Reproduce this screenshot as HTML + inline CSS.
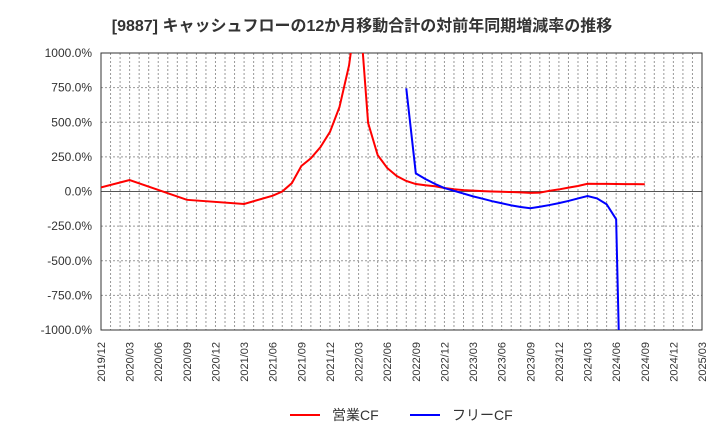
<!DOCTYPE html>
<html><head><meta charset="utf-8"><style>
html,body{margin:0;padding:0;background:#fff;width:720px;height:440px;overflow:hidden}
svg{display:block}
text{font-family:"Liberation Sans","Noto Sans CJK JP",sans-serif}
</style></head><body>
<svg id="c" width="720" height="440" xmlns="http://www.w3.org/2000/svg">
<text x="362" y="31" text-anchor="middle" font-size="16" font-weight="bold" fill="#333">[9887]  キャッシュフローの12か月移動合計の対前年同期増減率の推移</text>
<defs><clipPath id="pc"><rect x="101" y="53" width="601" height="277"/></clipPath></defs>
<g id="grid"></g><g id="axes"></g>
<g id="series" clip-path="url(#pc)"></g>
<g>
<line x1="290" y1="415" x2="320" y2="415" stroke="#f00" stroke-width="2"/>
<text x="332" y="420" font-size="14" fill="#333">営業CF</text>
<line x1="410" y1="415" x2="440" y2="415" stroke="#00f" stroke-width="2"/>
<text x="452" y="420" font-size="14" fill="#333">フリーCF</text>
</g>
</svg>
<script>
const yTicks=[1000,750,500,250,0,-250,-500,-750,-1000];
const xLabels=["2019/12","2020/03","2020/06","2020/09","2020/12","2021/03","2021/06","2021/09","2021/12","2022/03","2022/06","2022/09","2022/12","2023/03","2023/06","2023/09","2023/12","2024/03","2024/06","2024/09","2024/12","2025/03"];
const opMonths=[0,3,9,15,18,19,20,21,22,23,24,25,26,27,28,29,30,31,32,33,34,35,36,37,38,39,40,41,42,43,44,45,46,47,48,49,50,51,52,53,54,55,56,57];
const opValues=[30,83,-60,-90,-30,0,60,184,240,320,430,610,910,1410,495,263,170,112,76,54,45,38,25,16,10,6,3,0,-2,-4,-6,-10,-8,5,15,28,40,56,55,55,54,53,53,52];
const fcfMonths=[32,33,34,35,36,37,38,39,40,41,42,43,44,45,46,47,48,49,50,51,52,53,54,55];
const fcfValues=[745,131,90,55,25,5,-15,-35,-52,-70,-85,-100,-112,-121,-110,-98,-84,-68,-50,-33,-50,-92,-200,-3160];
const X0=101,X1=702,Y0=53,Y1=330,NM=63;
const x=m=>X0+m*(X1-X0)/NM;
const y=v=>Y0+(1000-v)*(Y1-Y0)/2000;
const NS="http://www.w3.org/2000/svg";
function mk(t,a,p){const e=document.createElementNS(NS,t);for(const k in a)e.setAttribute(k,a[k]);p.appendChild(e);return e;}
const g=document.getElementById('grid'),ax=document.getElementById('axes'),s=document.getElementById('series');
for(let m=1;m<NM;m++){const l=mk('line',{x1:x(m),x2:x(m),y1:Y0,y2:Y1,stroke:'#999','stroke-dasharray':'2,2','stroke-width':1},g);

}
yTicks.forEach(v=>{const l=mk('line',{x1:X0,x2:X1,y1:y(v),y2:y(v),stroke:v===0?'#555':'#999','stroke-dasharray':v===0?'none':'2,2','stroke-width':1},g);


const t=mk('text',{x:92,y:y(v)+4,'text-anchor':'end','font-size':12,fill:'#333'},ax);t.textContent=v.toFixed(1)+'%';

});
const fr=mk('rect',{x:X0,y:Y0,width:X1-X0,height:Y1-Y0,fill:'none',stroke:'#333','stroke-width':1},ax);


xLabels.forEach((lb,i)=>{const px=x(i*3);const t=mk('text',{x:0,y:0,transform:`translate(${px+4},342) rotate(-90)`,'text-anchor':'end','font-size':11,fill:'#333'},ax);t.textContent=lb;

});
function line(ms,vs,c,n){const p=mk('polyline',{points:ms.map((m,i)=>x(m)+','+y(vs[i])).join(' '),fill:'none',stroke:c,'stroke-width':2},s);

}
line(opMonths,opValues,'#f00','operating-cf-line');
line(fcfMonths,fcfValues,'#00f','free-cf-line');
</script>
</body></html>
